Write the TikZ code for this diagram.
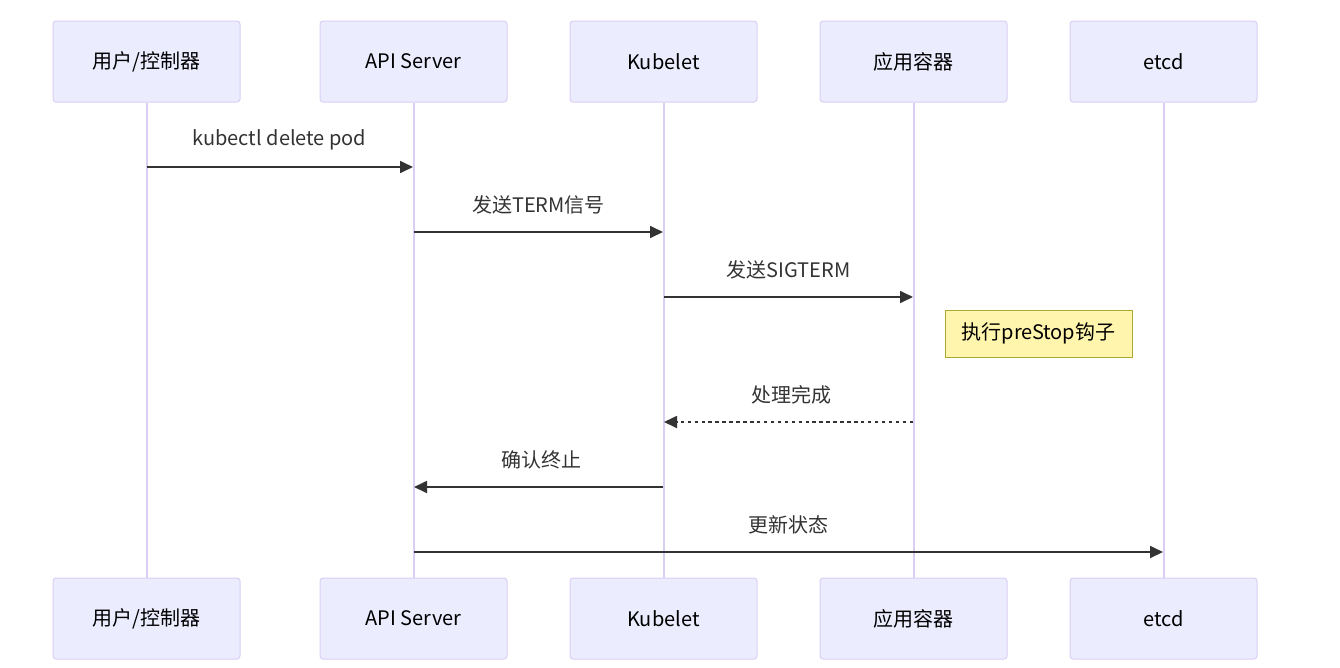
\documentclass[tikz,border=0pt]{standalone}
\usepackage{fontspec}
\setmainfont{Noto Sans CJK SC}
\usetikzlibrary{arrows.meta}
\definecolor{actfill}{HTML}{ECECFF}
\definecolor{actline}{HTML}{DACEF3}
\definecolor{msg}{HTML}{333333}
\definecolor{notefill}{HTML}{FFF5AD}
\definecolor{noteline}{HTML}{AAAA33}
\tikzset{
  actor/.style={draw=actline, fill=actfill, line width=0.75pt, rounded corners=2.25pt,
    minimum width=140.25pt, minimum height=60.75pt, inner sep=0pt,
    font=\fontsize{15pt}{18pt}\selectfont, text=black},
  lifeline/.style={draw=actline, line width=1.5pt},
  msgline/.style={draw=msg, line width=1.3pt, -{Triangle[length=9.75pt,width=9pt]}},
  msgdash/.style={msgline, dash pattern=on 2.6pt off 2.6pt},
  msglabel/.style={font=\fontsize{15pt}{18pt}\selectfont, text=msg, inner sep=0pt},
  notebox/.style={draw=noteline, fill=notefill, line width=0.75pt,
    minimum width=140.25pt, minimum height=35.25pt, inner sep=0pt,
    font=\fontsize{15pt}{18pt}\selectfont, text=black}
}
\begin{document}
\begin{tikzpicture}[x=0.75pt,y=-0.75pt]
\useasboundingbox (0,0) rectangle (1340,668);
% actors top
\node[actor] (u1) at (146.5,61.5) {用户/控制器};
\node[actor] (s1) at (413.5,61.5) {API Server};
\node[actor] (k1) at (663.5,61.5) {Kubelet};
\node[actor] (c1) at (913.5,61.5) {应用容器};
\node[actor] (e1) at (1163.5,61.5) {etcd};
% actors bottom
\node[actor] (u2) at (146.5,618.5) {用户/控制器};
\node[actor] (s2) at (413.5,618.5) {API Server};
\node[actor] (k2) at (663.5,618.5) {Kubelet};
\node[actor] (c2) at (913.5,618.5) {应用容器};
\node[actor] (e2) at (1163.5,618.5) {etcd};
% lifelines
\draw[lifeline] (u1.south) -- (u2.north);
\draw[lifeline] (s1.south) -- (s2.north);
\draw[lifeline] (k1.south) -- (k2.north);
\draw[lifeline] (c1.south) -- (c2.north);
\draw[lifeline] (e1.south) -- (e2.north);
% message points
\coordinate (m1a) at (146.5,167); \coordinate (m1b) at (413,167);
\coordinate (m2a) at (414,232);   \coordinate (m2b) at (663,232);
\coordinate (m3a) at (664,297);   \coordinate (m3b) at (913,297);
\coordinate (m4a) at (913,422);   \coordinate (m4b) at (664,422);
\coordinate (m5a) at (663,487);   \coordinate (m5b) at (414,487);
\coordinate (m6a) at (414,552);   \coordinate (m6b) at (1163,552);
% messages
\draw[msgline] (m1a) -- (m1b);
\node[msglabel] (l1) at (279.5,140) {kubectl delete pod};
\draw[msgline] (m2a) -- (m2b);
\node[msglabel] (l2) at (538.5,205) {发送TERM信号};
\draw[msgline] (m3a) -- (m3b);
\node[msglabel] (l3) at (788.5,270) {发送SIGTERM};
\node[notebox] (n1) at (1038.5,333.5) {执行preStop钩子};
\draw[msgdash] (m4a) -- (m4b);
\node[msglabel] (l4) at (791,395) {处理完成};
\draw[msgline] (m5a) -- (m5b);
\node[msglabel] (l5) at (541,460) {确认终止};
\draw[msgline] (m6a) -- (m6b);
\node[msglabel] (l6) at (788.5,525) {更新状态};
\end{tikzpicture}
\end{document}
